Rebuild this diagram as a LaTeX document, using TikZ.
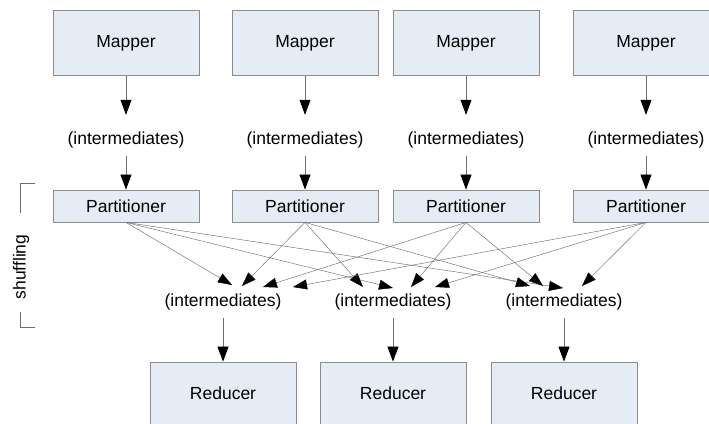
\documentclass[tikz,border=0pt]{standalone}
\usepackage{fontspec}
\setmainfont{Liberation Sans}
\usetikzlibrary{arrows.meta}
\definecolor{boxfill}{RGB}{229,236,246}
\definecolor{boxline}{RGB}{140,140,140}
\definecolor{lin}{RGB}{110,110,110}
\begin{document}
\begin{tikzpicture}[x=1pt,y=-1pt,
  txt/.style={font=\fontsize{17.5}{21}\selectfont},
  box/.style={txt,draw=boxline,fill=boxfill,line width=0.8pt,minimum width=146pt,inner sep=0pt},
  mapbox/.style={box,minimum height=65pt},
  partbox/.style={box,minimum height=32pt},
  redbox/.style={box,minimum height=62pt},
  lbl/.style={txt,inner sep=0pt,text height=12.8pt,text depth=3.7pt},
  arr/.style={draw=lin,line width=0.7pt,-{Triangle[length=15pt,width=11pt,color=black]}},
  fan/.style={draw=lin,line width=0.45pt,-{Triangle[length=14pt,width=10pt,color=black]}},
  brk/.style={draw=lin,line width=0.7pt}]
\useasboundingbox (0,0) rectangle (709,423);

% mappers
\foreach \i/\x in {1/126,2/305,3/466,4/646}{
  \node[mapbox] (m\i) at (\x,43) {Mapper};
  \node[lbl] (i\i) at (\x,140) {(intermediates)};
  \node[partbox] (p\i) at (\x,206) {Partitioner};
  \draw[arr,shorten >=16.75pt] (m\i.south) -- (i\i.north);
  \draw[arr,shorten <=7.75pt] (i\i.south) -- (p\i.north);
}

% reducer side
\foreach \j/\x in {1/223,2/393,3/564}{
  \node[lbl] (r\j i) at (\x,302) {(intermediates)};
  \node[redbox] (r\j) at (\x,393) {Reducer};
  \draw[arr,shorten <=7.75pt] (r\j i.south) -- (r\j.north);
}

% arrow tips of the shuffle
\coordinate (t11) at (232,285);
\coordinate (t21) at (242,286);
\coordinate (t31) at (263,287);
\coordinate (t41) at (293,287);
\coordinate (t22) at (363,287);
\coordinate (t12) at (393,288);
\coordinate (t32) at (411,287);
\coordinate (t42) at (435,287);
\coordinate (t23) at (530,286);
\coordinate (t33) at (543,286);
\coordinate (t13) at (563,288);
\coordinate (t43) at (582,286);

\foreach \p in {1,2,3,4}{
  \foreach \r in {1,2,3}{
    \draw[fan] (p\p.south) -- (t\p\r);
  }
}

% shuffling bracket
\coordinate (b1) at (35,183);
\coordinate (b2) at (20,183);
\coordinate (b3) at (20,213);
\coordinate (b4) at (20,312);
\coordinate (b5) at (20,327);
\coordinate (b6) at (35,327);
\draw[brk] (b1) -- (b2) -- (b3);
\draw[brk] (b4) -- (b5) -- (b6);
\node[txt,rotate=90,inner sep=0pt] (shuf) at (21,267) {shuffling};
\end{tikzpicture}
\end{document}
